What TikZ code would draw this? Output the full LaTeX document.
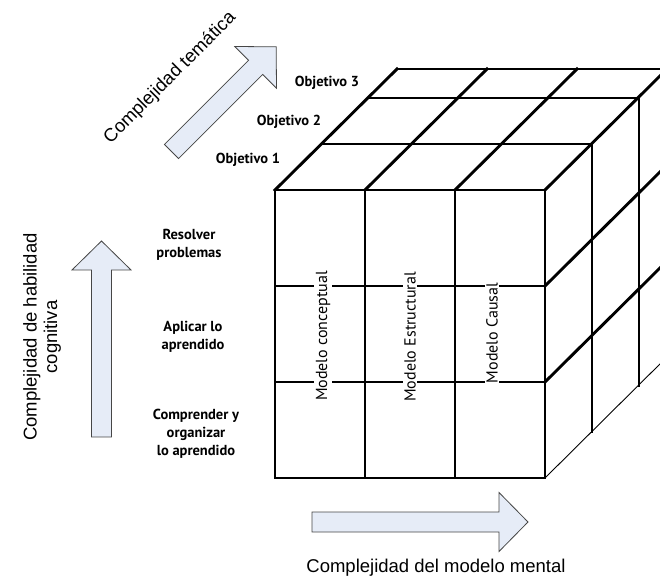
\documentclass[tikz,border=0pt]{standalone}
\usepackage{fontspec}
\setmainfont{Liberation Sans}
\newfontfamily\ptsans{PT Sans}
\usetikzlibrary{positioning}
\definecolor{flechaazul}{RGB}{230,236,247}
\definecolor{flechagris}{RGB}{70,70,70}
\tikzset{
    %Define style for cube lines
    cubo/.style={
           line width=2.9pt,
           line cap=rect},
    fino/.style={
           line width=0.9pt},
    % Define style for labels
    objetivo/.style={
           font=\ptsans\bfseries\fontsize{14.5}{18}\selectfont},
    nivel/.style={
           objetivo,
           align=center},
    modelo/.style={
           font=\ptsans\fontsize{16}{18}\selectfont,
           rotate=90,
           fill=white,
           inner sep=1.5pt},
    eje/.style={
           font=\fontsize{18.5}{20.5}\selectfont,
           align=center},
    % Define block arrow
    flechaborde/.style={
           draw=flechagris,
           fill=flechaazul,
           line width=0.8pt},
    pics/flecha/.style={
           code={\draw[flechaborde] (0,-10) -- (#1-29,-10) -- (#1-29,-29.5)
                 -- (#1,0) -- (#1-29,29.5) -- (#1-29,10) -- (0,10) -- cycle;}}
}
\begin{document}
\begin{tikzpicture}[x=1pt,y=1pt]
  \useasboundingbox (0,0) rectangle (660,575);
  \clip (0,0) rectangle (660,575);
  % front face
  \foreach \i in {0,1,2,3} {
    \draw[cubo] (275+90*\i,97) -- (275+90*\i,385);
    \draw[cubo] (275,97+96*\i) -- (545,97+96*\i);
  }
  % top and side faces
  \foreach \dx/\dy in {47/46,94/92,122/121} {
    \draw[cubo] (275+\dx,385+\dy) -- (545+\dx,385+\dy);
    \draw[cubo] (545+\dx,97+\dy) -- (545+\dx,385+\dy);
  }
  \foreach \i in {0,1,2,3}
    \draw[cubo] (275+90*\i,385) -- ++(122,121);
  \foreach \y in {193,289}
    \draw[cubo] (545,\y) -- ++(122,121);
  \draw[fino] (545,97) -- ++(122,121);

  \node[objetivo] (obj1) at (248,415) {Objetivo 1};
  \node[objetivo] (obj2) at (289,453) {Objetivo 2};
  \node[objetivo] (obj3) at (327,492) {Objetivo 3};
  \node[nivel] (resolver) at (189,330) {Resolver\\problemas};
  \node[nivel] (aplicar) at (193,238) {Aplicar lo\\aprendido};
  \node[nivel] (comprender) at (196,141) {Comprender y\\organizar\\lo aprendido};
  \node[modelo] (conceptual) at (323,239) {Modelo conceptual};
  \node[modelo] (estructural) at (410,238) {Modelo Estructural};
  \node[modelo] (causal) at (492,242) {Modelo Causal};

  % block arrows
  \pic[rotate=45] (tematica) at (171.5,423.5) {flecha=148};
  \pic[rotate=90] (habilidad) at (101.5,138) {flecha=196};
  \pic (mental) at (312,53) {flecha=216};
  \node[eje,rotate=45] (lbltematica) at (170,497) {Complejidad temática};
  \node[eje,rotate=90] (lblhabilidad) at (42,238) {Complejidad de habilidad\\cognitiva};
  \node[eje,anchor=base] (lblmental) at (436,2.5) {Complejidad del modelo mental};
\end{tikzpicture}
\end{document}
